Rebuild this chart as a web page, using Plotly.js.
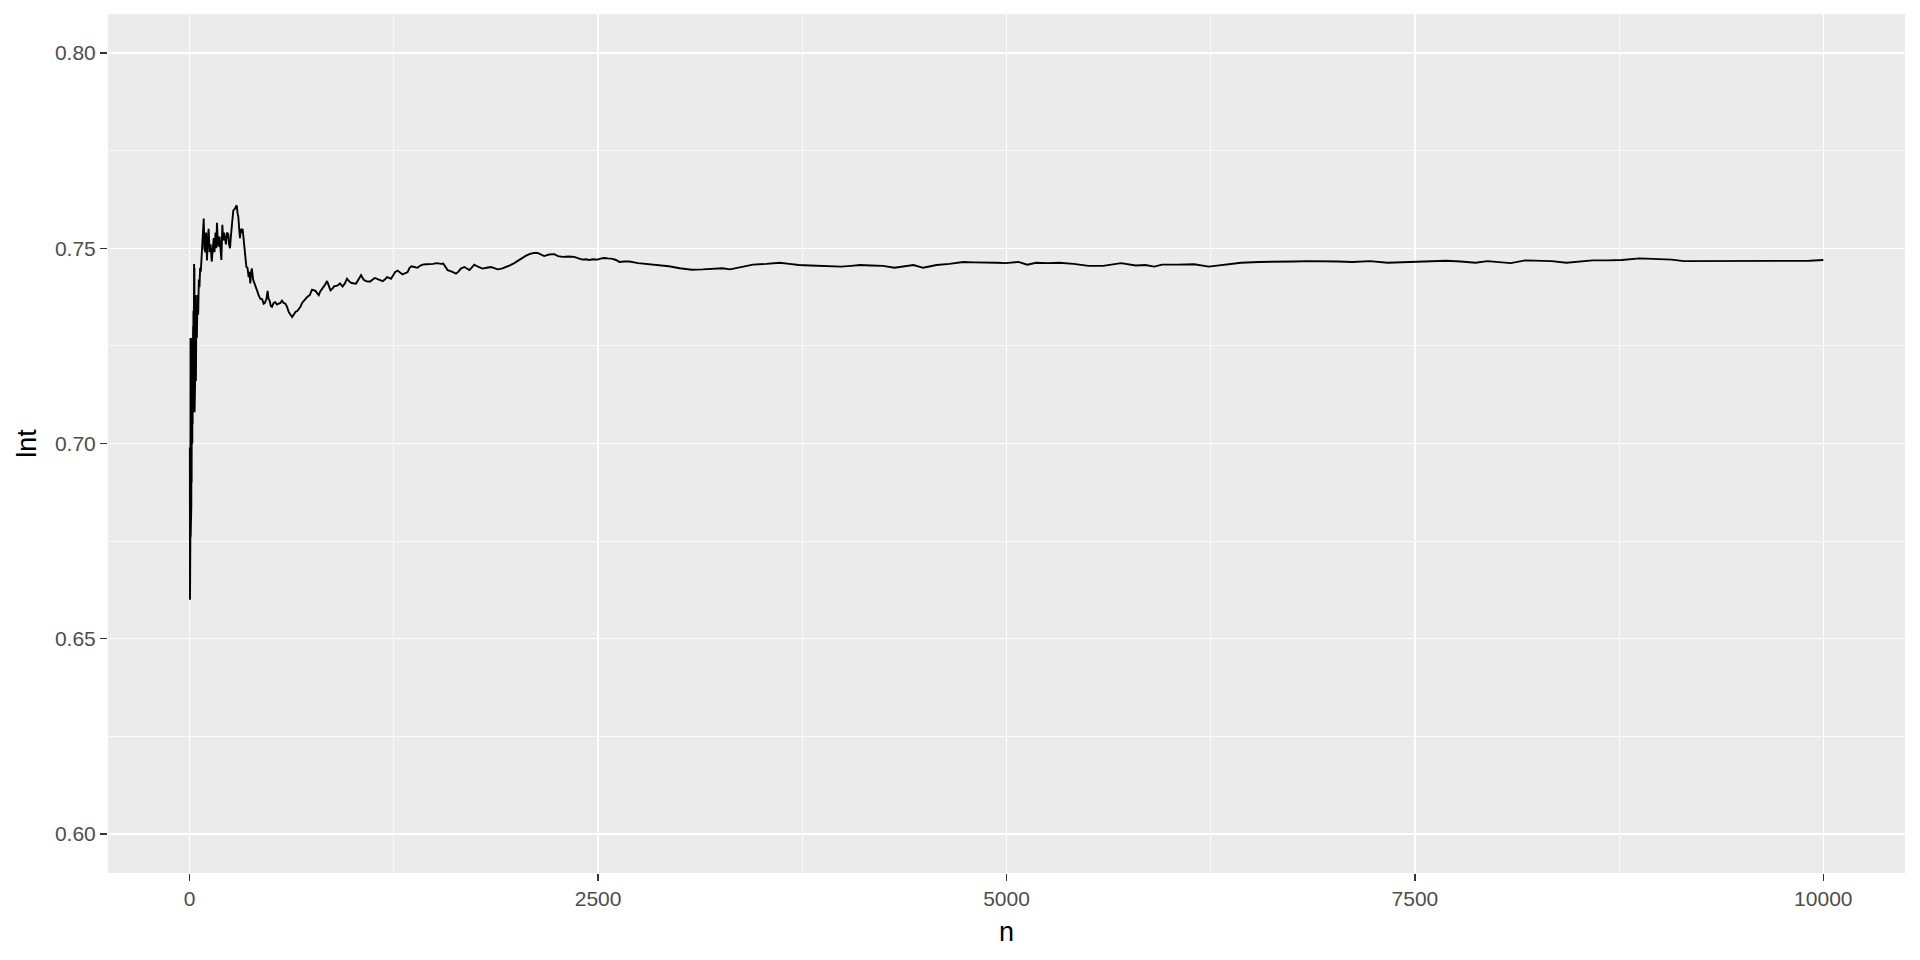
<!DOCTYPE html>
<html>
<head>
<meta charset="utf-8">
<script src="https://cdn.plot.ly/plotly-3.0.1.min.js"></script>
<style>html,body{margin:0;padding:0;background:#fff;}#chart{width:1920px;height:960px;}</style>
</head>
<body>
<div id="chart"></div>
<script>
// n values (sample index)
const nValues = [1,2,3,4,5,6,7,8,9,10,11,12,13,14,15,16,17,18,19,20,21,22,23,24,25,26,27,28,29,30,31,32,33,34,35,36,37,38,39,40,44,48,52,56,60,64,68,72,76,80,86,90,96,100,106,110,116,122,128,135,141,147,152,158,163,167,172,177,183,188,194,200,205,210,216,222,228,236,241,247,252,258,263,267,275,283,288,293,298,303,308,314,320,324,334,341,347,354,361,366,371,376,381,388,395,403,412,422,432,443,453,460,470,477,483,489,497,504,514,524,534,545,555,565,575,586,596,606,617,627,637,647,660,678,688,698,708,719,735,749,760,770,780,790,800,811,826,841,852,862,875,882,906,920,936,950,963,977,991,1005,1018,1033,1049,1064,1079,1092,1106,1120,1134,1158,1181,1195,1208,1220,1232,1245,1257,1273,1288,1303,1318,1334,1346,1358,1376,1395,1410,1426,1447,1467,1490,1514,1538,1552,1565,1579,1605,1630,1645,1660,1681,1695,1712,1725,1742,1768,1793,1818,1844,1865,1885,1910,1936,1960,1987,2008,2028,2054,2079,2105,2130,2150,2170,2200,2232,2255,2283,2320,2354,2380,2405,2425,2446,2470,2497,2520,2538,2560,2589,2610,2630,2660,2691,2745,2800,2860,2933,3000,3073,3140,3200,3261,3308,3380,3448,3530,3612,3670,3729,3800,3870,3930,3987,4050,4103,4170,4244,4314,4370,4431,4490,4572,4650,4736,4800,4876,4940,4995,5073,5127,5181,5250,5324,5410,5503,5592,5650,5701,5791,5850,5905,5952,6050,6149,6238,6328,6436,6544,6650,6759,6850,6938,7030,7118,7225,7333,7440,7548,7620,7691,7780,7871,7943,8010,8086,8176,8260,8337,8427,8500,8588,8680,8767,8875,8982,9072,9145,9220,9306,9400,9485,9600,9700,9800,9914,10000];

// lnt values
const lntValues = [0.699,0.660,0.668,0.675,0.727,0.676,0.726,0.680,0.725,0.684,0.724,0.690,0.727,0.695,0.722,0.700,0.726,0.705,0.723,0.712,0.730,0.716,0.734,0.712,0.740,0.720,0.746,0.714,0.745,0.708,0.742,0.716,0.740,0.718,0.738,0.722,0.734,0.716,0.732,0.728,0.727,0.738,0.733,0.742,0.740,0.745,0.744,0.748,0.749,0.752,0.7576,0.750,0.749,0.754,0.7469,0.752,0.755,0.749,0.751,0.7466,0.751,0.7526,0.749,0.754,0.750,0.7565,0.752,0.7504,0.753,0.749,0.747,0.756,0.752,0.754,0.752,0.751,0.754,0.7536,0.751,0.750,0.753,0.756,0.7572,0.7597,0.760,0.7606,0.761,0.759,0.758,0.755,0.7526,0.755,0.754,0.755,0.7503,0.748,0.7452,0.745,0.7426,0.744,0.741,0.744,0.7448,0.742,0.741,0.740,0.7392,0.738,0.7371,0.737,0.7358,0.736,0.737,0.7391,0.737,0.7366,0.7352,0.735,0.736,0.7362,0.7356,0.7358,0.736,0.7366,0.736,0.7358,0.735,0.7337,0.733,0.7324,0.733,0.7337,0.734,0.735,0.736,0.7366,0.737,0.7375,0.738,0.7394,0.7393,0.7391,0.7385,0.738,0.739,0.7396,0.7405,0.7416,0.740,0.7392,0.7397,0.7402,0.7405,0.741,0.7402,0.741,0.7422,0.7415,0.7411,0.741,0.7409,0.742,0.7431,0.742,0.7416,0.7415,0.7415,0.742,0.7424,0.742,0.7416,0.742,0.7426,0.7424,0.7422,0.743,0.7439,0.7443,0.7438,0.7433,0.7436,0.7439,0.745,0.7454,0.7452,0.745,0.7455,0.7458,0.7459,0.7459,0.746,0.7462,0.746,0.7461,0.7452,0.7444,0.744,0.7435,0.744,0.7448,0.7452,0.7448,0.7444,0.745,0.7458,0.7452,0.7448,0.745,0.7452,0.7449,0.7446,0.7448,0.7452,0.7456,0.7462,0.7468,0.7473,0.748,0.7485,0.7488,0.7488,0.7484,0.748,0.7484,0.7485,0.748,0.7478,0.7479,0.7478,0.7474,0.7471,0.7472,0.747,0.7472,0.7471,0.7474,0.7475,0.7474,0.7473,0.747,0.7465,0.7466,0.7466,0.7462,0.746,0.7458,0.7454,0.7449,0.7445,0.7446,0.7448,0.7449,0.7446,0.7452,0.7458,0.746,0.7463,0.746,0.7457,0.7456,0.7455,0.7454,0.7453,0.7455,0.7457,0.7456,0.7455,0.745,0.7454,0.7457,0.745,0.7457,0.746,0.7465,0.7464,0.7464,0.7463,0.7462,0.7465,0.7458,0.7463,0.7462,0.7463,0.746,0.7455,0.7455,0.7459,0.7462,0.7456,0.7457,0.7453,0.7458,0.7458,0.7459,0.7453,0.7457,0.7463,0.7465,0.7465,0.7466,0.7467,0.7467,0.7466,0.7465,0.7467,0.7463,0.7465,0.7466,0.7467,0.7468,0.7466,0.7463,0.7467,0.7465,0.7462,0.7469,0.7468,0.7467,0.7463,0.7466,0.7469,0.7469,0.747,0.7474,0.7473,0.7471,0.7467,0.7467,0.7467,0.7468,0.7468,0.7467,0.7467,0.7467,0.7468,0.747];

const xTickVals = [0, 2500, 5000, 7500, 10000];
const xTickText = ['0', '2500', '5000', '7500', '10000'];
const yTickVals = [0.60, 0.65, 0.70, 0.75, 0.80];
const yTickText = ['0.60', '0.65', '0.70', '0.75', '0.80'];

const trace = {
  x: nValues,
  y: lntValues,
  type: 'scatter',
  mode: 'lines',
  line: {color: '#000000', width: 1.9},
  hoverinfo: 'x+y'
};

const fontFam = '"Liberation Sans", Arial, "DejaVu Sans", sans-serif';

const layout = {
  width: 1920,
  height: 960,
  margin: {l: 108, r: 15, t: 14, b: 87},
  paper_bgcolor: '#FFFFFF',
  plot_bgcolor: '#EBEBEB',
  showlegend: false,
  font: {family: fontFam, color: '#4D4D4D', size: 21},
  xaxis: {
    range: [-500, 10500],
    tickmode: 'array',
    tickvals: xTickVals,
    ticktext: xTickText,
    ticks: 'outside',
    ticklen: 7,
    tickwidth: 1.5,
    tickcolor: '#333333',
    tickfont: {family: fontFam, color: '#4D4D4D', size: 21},
    showgrid: true,
    gridcolor: '#FFFFFF',
    gridwidth: 1.5,
    minor: {tickmode: 'array', tickvals: [1250, 3750, 6250, 8750], showgrid: true, gridcolor: '#FFFFFF', gridwidth: 0.75, ticks: ''},
    zeroline: false,
    showline: false,
    title: {text: 'n', font: {family: fontFam, color: '#000000', size: 27}, standoff: 12}
  },
  yaxis: {
    range: [0.59, 0.81],
    tickmode: 'array',
    tickvals: yTickVals,
    ticktext: yTickText,
    ticks: 'outside',
    ticklen: 7,
    tickwidth: 1.5,
    tickcolor: '#333333',
    tickfont: {family: fontFam, color: '#4D4D4D', size: 21},
    showgrid: true,
    gridcolor: '#FFFFFF',
    gridwidth: 1.5,
    minor: {tickmode: 'array', tickvals: [0.625, 0.675, 0.725, 0.775], showgrid: true, gridcolor: '#FFFFFF', gridwidth: 0.75, ticks: ''},
    zeroline: false,
    showline: false,
    title: {text: 'lnt', font: {family: fontFam, color: '#000000', size: 27}, standoff: 10}
  }
};

Plotly.newPlot('chart', [trace], layout, {displayModeBar: false, staticPlot: true});
</script>
</body>
</html>
